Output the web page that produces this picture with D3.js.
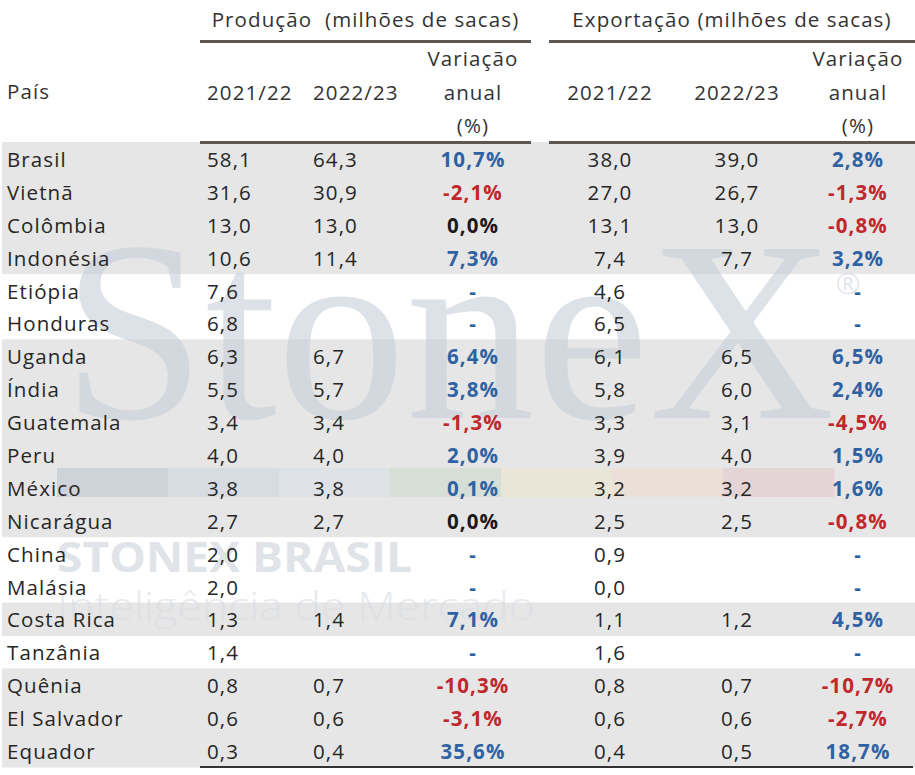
<!DOCTYPE html>
<html>
<head>
<meta charset="utf-8">
<script src="https://cdn.jsdelivr.net/npm/d3@7.9.0/dist/d3.min.js"></script>
<style>
  body { margin: 0; background: #fff; }
  svg { display: block; font-family: "Open Sans", sans-serif; }
</style>
</head>
<body>
<svg id="chart" width="915" height="775"></svg>
<script>
// ===== DATA =====
const countries = ["Brasil", "Vietnã", "Colômbia", "Indonésia", "Etiópia", "Honduras", "Uganda", "Índia",
  "Guatemala", "Peru", "México", "Nicarágua", "China", "Malásia", "Costa Rica", "Tanzânia",
  "Quênia", "El Salvador", "Equador"];
const prod2122 = [58.1, 31.6, 13.0, 10.6, 7.6, 6.8, 6.3, 5.5, 3.4, 4.0, 3.8, 2.7, 2.0, 2.0, 1.3, 1.4, 0.8, 0.6, 0.3];
const prod2223 = [64.3, 30.9, 13.0, 11.4, null, null, 6.7, 5.7, 3.4, 4.0, 3.8, 2.7, null, null, 1.4, null, 0.7, 0.6, 0.4];
const prodVar = [10.7, -2.1, 0.0, 7.3, null, null, 6.4, 3.8, -1.3, 2.0, 0.1, 0.0, null, null, 7.1, null, -10.3, -3.1, 35.6];
const exp2122 = [38.0, 27.0, 13.1, 7.4, 4.6, 6.5, 6.1, 5.8, 3.3, 3.9, 3.2, 2.5, 0.9, 0.0, 1.1, 1.6, 0.8, 0.6, 0.4];
const exp2223 = [39.0, 26.7, 13.0, 7.7, null, null, 6.5, 6.0, 3.1, 4.0, 3.2, 2.5, null, null, 1.2, null, 0.7, 0.6, 0.5];
const expVar = [2.8, -1.3, -0.8, 3.2, null, null, 6.5, 2.4, -4.5, 1.5, 1.6, -0.8, null, null, 4.5, null, -10.7, -2.7, 18.7];
const shadedRows = ["Brasil", "Vietnã", "Colômbia", "Indonésia", "Uganda", "Índia", "Guatemala", "Peru",
  "México", "Nicarágua", "Costa Rica", "Quênia", "El Salvador", "Equador"];
const groupTitles = ["Produção  (milhões de sacas)", "Exportação (milhões de sacas)"];
const yearLabels = ["2021/22", "2022/23"];
const varLabel = ["Variação", "anual", "(%)"];

const svg = d3.select("#chart");
const W = 915;
const ink = "#262626";
const blue = "#2f62a3", red = "#c0282d";
const fontSize = 20.5, spacing = 1.1;

const locale = d3.formatLocale({ decimal: ",", thousands: ".", grouping: [3], currency: ["R$", ""], minus: "-" });
const fmt = locale.format(".1f");

const y = d3.scaleBand().domain(countries).range([142, 767]);
const base = d => y(d) + y.bandwidth() / 2 + 8.5;

// ===== ROW SHADING =====
svg.append("g")
  .selectAll("rect")
  .data(countries.filter(c => shadedRows.includes(c)))
  .join("rect")
  .attr("x", 2)
  .attr("y", d => y(d))
  .attr("width", W - 2)
  .attr("height", y.bandwidth() + 0.5)
  .attr("fill", "#e6e6e6");

// ===== WATERMARK =====
const wm = svg.append("g").attr("opacity", 0.6);
wm.append("text")
  .attr("x", 62).attr("y", 418)
  .attr("font-family", "Liberation Serif, serif")
  .attr("font-size", 258)
  .attr("textLength", 773)
  .attr("lengthAdjust", "spacingAndGlyphs")
  .attr("fill", "#c8cfd9")
  .text("StoneX");
wm.append("text")
  .attr("x", 848).attr("y", 294)
  .attr("text-anchor", "middle")
  .attr("font-size", 30)
  .attr("fill", "#d2d8e0")
  .text("®");

// colour stripe (already blended tones)
const stripeColors = ["#ced3d9", "#d7dce2", "#dee2e7", "#d6ded6", "#e9e6d8", "#eae0d7", "#e4d4d5"];
const sx = d3.scaleBand().domain(d3.range(stripeColors.length)).range([57, 834]);
svg.append("g")
  .selectAll("rect")
  .data(stripeColors)
  .join("rect")
  .attr("x", (d, i) => sx(i))
  .attr("y", 468)
  .attr("width", sx.bandwidth() + 0.5)
  .attr("height", 29)
  .attr("fill", d => d);

wm.append("text")
  .attr("x", 57).attr("y", 572)
  .attr("font-size", 42)
  .attr("font-weight", 700)
  .attr("textLength", 355)
  .attr("lengthAdjust", "spacingAndGlyphs")
  .attr("fill", "#cdd3dc")
  .text("STONEX BRASIL");
wm.append("text")
  .attr("x", 57).attr("y", 620)
  .attr("font-size", 38)
  .attr("font-weight", 300)
  .attr("textLength", 478)
  .attr("lengthAdjust", "spacingAndGlyphs")
  .attr("fill", "#d8dde3")
  .text("Inteligência de Mercado");

// ===== HEADER =====
const head = svg.append("g")
  .attr("font-size", fontSize)
  .attr("letter-spacing", spacing)
  .attr("fill", "#333");

const groups = [
  { x0: 200, x1: 531, cols: [{ x: 207, anchor: "start" }, { x: 313, anchor: "start" }, { x: 473, anchor: "middle" }] },
  { x0: 549, x1: 915, cols: [{ x: 610, anchor: "middle" }, { x: 737, anchor: "middle" }, { x: 858, anchor: "middle" }] }
];

groups.forEach((g, gi) => {
  head.append("text")
    .attr("x", (g.x0 + g.x1) / 2)
    .attr("y", 27)
    .attr("text-anchor", "middle")
    .style("white-space", "pre")
    .text(groupTitles[gi]);

  [41.5, 142.5].forEach(ly => {
    svg.append("line")
      .attr("x1", g.x0).attr("x2", g.x1)
      .attr("y1", ly).attr("y2", ly)
      .attr("stroke", "#5e5850")
      .attr("stroke-width", 3);
  });

  yearLabels.forEach((lab, i) => {
    const c = g.cols[i];
    head.append("text")
      .attr("x", c.x)
      .attr("y", 100)
      .attr("text-anchor", c.anchor)
      .text(lab);
  });

  varLabel.forEach((lab, i) => {
    head.append("text")
      .attr("x", g.cols[2].x)
      .attr("y", 66 + i * 33.5)
      .attr("text-anchor", "middle")
      .text(lab);
  });
});

head.append("text").attr("x", 7).attr("y", 99).text("País");

// ===== BODY =====
const body = svg.append("g")
  .attr("font-size", fontSize)
  .attr("letter-spacing", spacing);

body.selectAll(".country")
  .data(countries)
  .join("text")
  .attr("class", "country")
  .attr("x", 7)
  .attr("y", d => base(d))
  .attr("fill", ink)
  .text(d => d);

const valueCols = [
  { values: prod2122, col: groups[0].cols[0] },
  { values: prod2223, col: groups[0].cols[1] },
  { values: exp2122, col: groups[1].cols[0] },
  { values: exp2223, col: groups[1].cols[1] }
];

valueCols.forEach(vc => {
  body.append("g")
    .selectAll("text")
    .data(countries.map((c, i) => ({ c, v: vc.values[i] })).filter(d => d.v !== null))
    .join("text")
    .attr("x", vc.col.x)
    .attr("y", d => base(d.c))
    .attr("text-anchor", vc.col.anchor)
    .attr("fill", ink)
    .text(d => fmt(d.v));
});

const varColor = v => v === null ? blue : v > 0 ? blue : v < 0 ? red : "#1a1a1a";

[{ values: prodVar, col: groups[0].cols[2] }, { values: expVar, col: groups[1].cols[2] }].forEach(vc => {
  body.append("g")
    .selectAll("text")
    .data(countries.map((c, i) => ({ c, v: vc.values[i] })))
    .join("text")
    .attr("x", vc.col.x)
    .attr("y", d => base(d.c))
    .attr("text-anchor", "middle")
    .attr("font-weight", 700)
    .attr("fill", d => varColor(d.v))
    .text(d => d.v === null ? "-" : fmt(d.v) + "%");
});

// bottom rule
svg.append("line")
  .attr("x1", 200).attr("x2", 913)
  .attr("y1", 767).attr("y2", 767)
  .attr("stroke", "#333")
  .attr("stroke-width", 2);
</script>
</body>
</html>
